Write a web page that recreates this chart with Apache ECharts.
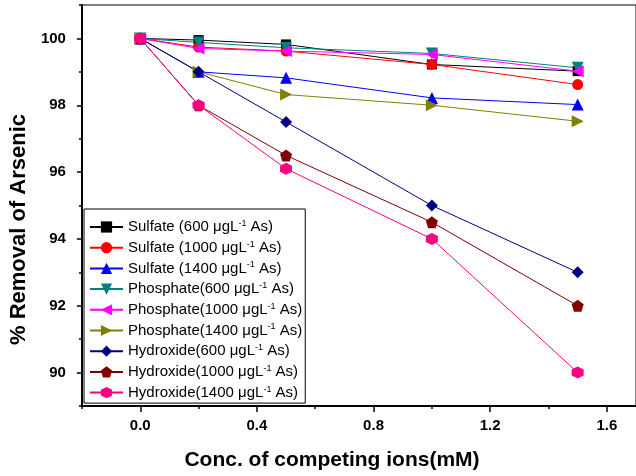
<!DOCTYPE html>
<html>
<head>
<meta charset="utf-8">
<script src="https://cdn.jsdelivr.net/npm/echarts@6/dist/echarts.min.js"></script>
<style>
  html, body { margin: 0; padding: 0; background: #fff; }
  #chart { width: 636px; height: 476px; }
</style>
</head>
<body>
<div id="chart"></div>
<script>
// concentration of competing ions (mM)
var conc = [0, 0.2, 0.5, 1.0, 1.5];

var sulfate600 = [100, 99.95, 99.82, 99.22, 99.02];
var sulfate1000 = [100, 99.74, 99.62, 99.22, 98.62];
var sulfate1400 = [100, 99.0, 98.82, 98.22, 98.02];
var phosphate600 = [100, 99.88, 99.72, 99.55, 99.12];
var phosphate1000 = [100, 99.7, 99.62, 99.52, 99.02];
var phosphate1400 = [100, 99.0, 98.32, 98.0, 97.52];
var hydroxide600 = [100, 99.0, 97.5, 95.0, 93.0];
var hydroxide1000 = [100, 98.0, 96.5, 94.5, 92.0];
var hydroxide1400 = [100, 98.0, 96.1, 94.0, 90.0];

var xMajor = [0, 0.4, 0.8, 1.2, 1.6];
var xMinor = [-0.2, 0.2, 0.6, 1.0, 1.4];
var yMajor = [90, 92, 94, 96, 98, 100];
var yMinor = [89, 91, 93, 95, 97, 99, 101];

var seriesList = [
	{ name: 'Sulfate (600 μgL-1 As)', data: sulfate600, color: '#000000', symbol: 'rect', size: 10 },
	{ name: 'Sulfate (1000 μgL-1 As)', data: sulfate1000, color: '#ff0000', symbol: 'circle', size: 11 },
	{ name: 'Sulfate (1400 μgL-1 As)', data: sulfate1400, color: '#0000ff', symbol: 'triangle', size: 12 },
	{ name: 'Phosphate(600 μgL-1 As)', data: phosphate600, color: '#008080', symbol: 'path://M0,0L10,0L5,9z', size: 12 },
	{ name: 'Phosphate(1000 μgL-1 As)', data: phosphate1000, color: '#ff00ff', symbol: 'path://M0,5L9,0L9,10z', size: 12 },
	{ name: 'Phosphate(1400 μgL-1 As)', data: phosphate1400, color: '#808000', symbol: 'path://M0,0L9,5L0,10z', size: 12 },
	{ name: 'Hydroxide(600 μgL-1 As)', data: hydroxide600, color: '#000080', symbol: 'diamond', size: 12 },
	{ name: 'Hydroxide(1000 μgL-1 As)', data: hydroxide1000, color: '#800000', symbol: 'path://M5,0L10,3.8L8.1,10L1.9,10L0,3.8z', size: 12 },
	{ name: 'Hydroxide(1400 μgL-1 As)', data: hydroxide1400, color: '#ff0080', symbol: 'path://M5,0L10,2.5L10,7.5L5,10L0,7.5L0,2.5z', size: 12 },
];

var chartDom = document.getElementById('chart');
var myChart = echarts.init(chartDom);

var option = {
	animation: false,
	textStyle: { fontFamily: 'Liberation Sans, Arial, sans-serif' },
	grid: {
		left: 80,
		top: 5,
		right: -8,
		bottom: 70,
		show: true,
		borderColor: '#555',
		borderWidth: 1.5,
	},
	legend: {
		orient: 'vertical',
		left: 84,
		top: 209,
		padding: [10, 3, 3, 5],
		itemGap: 5.2,
		itemWidth: 33,
		itemHeight: 14,
		borderColor: '#000',
		borderWidth: 1,
		backgroundColor: '#fff',
		data: seriesList.map(function (s) { return s.name; }),
		formatter: function (name) {
			return '{t|' + name.replace('μgL-1', 'μgL}{s|-1}{t|') + '}';
		},
		textStyle: {
			color: '#000',
			rich: {
				t: { fontSize: 15, lineHeight: 16, color: '#000' },
				s: { fontSize: 9, lineHeight: 9, verticalAlign: 'top', color: '#000' },
			},
		},
	},
	xAxis: [
		{
			type: 'value',
			min: -0.2,
			max: 1.7,
			name: 'Conc. of competing ions(mM)',
			nameLocation: 'middle',
			nameGap: 44,
			nameTextStyle: { fontSize: 21, fontWeight: 'bold', color: '#000', padding: [0, 54, 0, 0] },
			axisLine: { onZero: false, lineStyle: { color: '#000', width: 2 } },
			axisTick: { customValues: xMajor, length: 6, lineStyle: { color: '#000', width: 1.5 } },
			axisLabel: {
				customValues: xMajor,
				margin: 12,
				fontSize: 15,
				fontWeight: 'bold',
				color: '#000',
				formatter: function (v) { return v.toFixed(1); },
			},
			splitLine: { show: false },
		},
		{
			type: 'value',
			min: -0.2,
			max: 1.7,
			position: 'bottom',
			axisLine: { show: false, onZero: false },
			axisTick: { customValues: xMinor, length: 3, lineStyle: { color: '#000', width: 1.5 } },
			axisLabel: { show: false },
			splitLine: { show: false },
		},
	],
	yAxis: [
		{
			type: 'value',
			min: 89,
			max: 101,
			name: '% Removal of Arsenic',
			nameLocation: 'middle',
			nameGap: 42,
			nameTextStyle: { fontSize: 22, fontWeight: 'bold', color: '#000', padding: [0, 48, 0, 0] },
			axisLine: { onZero: false, lineStyle: { color: '#000', width: 2 } },
			axisTick: { customValues: yMajor, length: 5, lineStyle: { color: '#000', width: 1.5 } },
			axisLabel: {
				customValues: yMajor,
				margin: 16,
				fontSize: 15,
				fontWeight: 'bold',
				color: '#000',
			},
			splitLine: { show: false },
		},
		{
			type: 'value',
			min: 89,
			max: 101,
			position: 'left',
			axisLine: { show: false, onZero: false },
			axisTick: { customValues: yMinor, length: 3, lineStyle: { color: '#000', width: 1.5 } },
			axisLabel: { show: false },
			splitLine: { show: false },
		},
	],
	series: seriesList.map(function (s) {
		return {
			name: s.name,
			type: 'line',
			xAxisIndex: 0,
			yAxisIndex: 0,
			data: conc.map(function (x, i) { return [x, s.data[i]]; }),
			symbol: s.symbol,
			symbolSize: s.size,
			color: s.color,
			itemStyle: { color: s.color, opacity: 1 },
			lineStyle: { color: s.color, width: 1 },
		};
	}),
};
myChart.setOption(option);
</script>
</body>
</html>
